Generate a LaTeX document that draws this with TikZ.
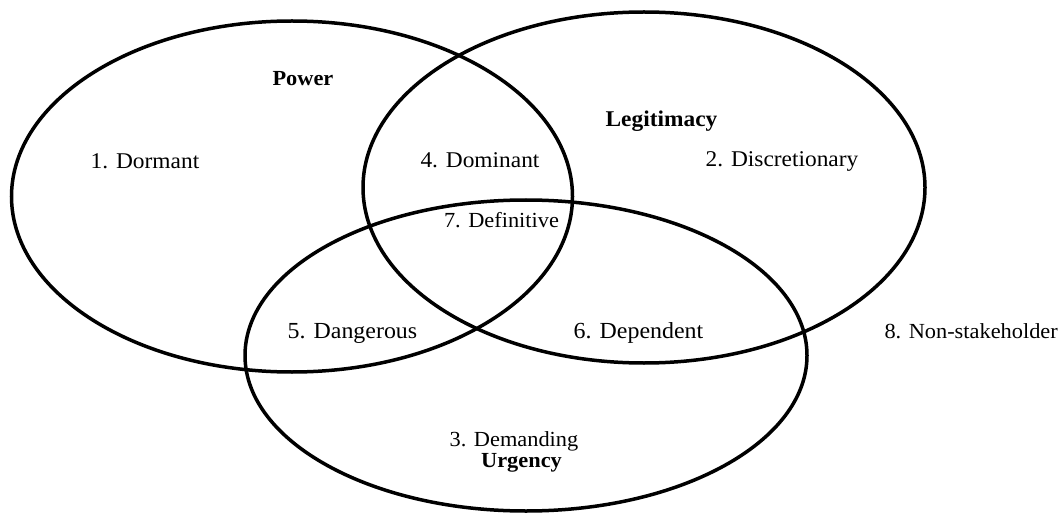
\documentclass[tikz,border=0pt]{standalone}
\usepackage{fontspec}
\setmainfont{Liberation Serif}[FakeStretch=1.04]
\begin{document}
\begin{tikzpicture}[x=1pt,y=-1pt,
  ring/.style={line width=3.5pt,draw=black},
  area/.style={font=\fontsize{22.5}{26}\selectfont,inner sep=0pt,anchor=base},
  wide/.style={area,font=\fontsize{23}{27}\selectfont},
  small/.style={area,font=\fontsize{21.5}{25}\selectfont},
  attr/.style={font=\fontsize{21.5}{25}\selectfont\bfseries,inner sep=0pt,anchor=base}]
  \useasboundingbox (0,0) rectangle (1060,513);
  % the three attribute circles
  \draw[ring] (292,196.5) ellipse [x radius=280.5, y radius=175.5];
  \draw[ring] (644,187.5) ellipse [x radius=281, y radius=175.5];
  \draw[ring] (526,355.5) ellipse [x radius=281, y radius=155.5];
  % attribute names
  \node[attr] (power) at (303,86) {Power};
  \node[attr,font=\fontsize{22.5}{26}\selectfont\bfseries] (legit) at (661.5,127) {Legitimacy};
  \node[attr] (urg) at (521.5,467.5) {Urgency};
  % stakeholder classes
  \node[area] (dormant) at (145,169) {1. Dormant};
  \node[area] (dominant) at (480,168) {4. Dominant};
  \node[area] (discr) at (782,167) {2. Discretionary};
  \node[small] (defin) at (501.5,228) {7. Definitive};
  \node[wide] (danger) at (352.5,338) {5. Dangerous};
  \node[wide] (depend) at (638.5,338) {6. Dependent};
  \node[small,anchor=base east] (nonst) at (1058,338) {8. Non-stakeholder};
  \node[small] (demand) at (514,446) {3. Demanding};
\end{tikzpicture}
\end{document}
